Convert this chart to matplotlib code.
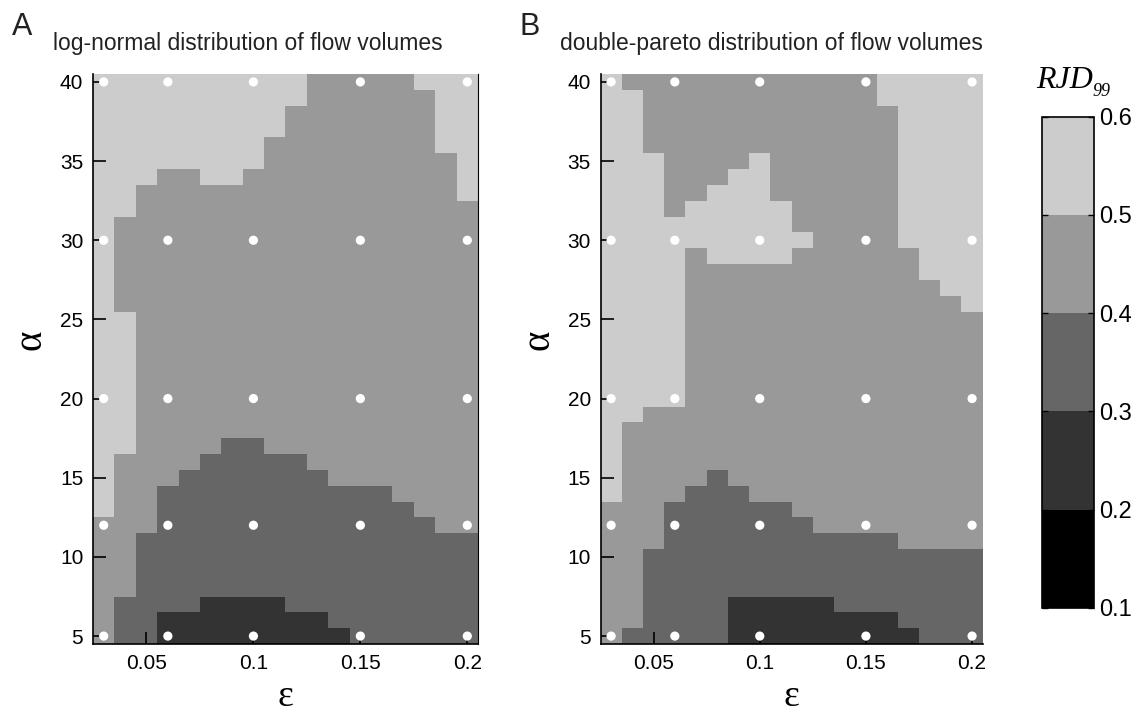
import numpy as np
import matplotlib
matplotlib.use("Agg")
import matplotlib.pyplot as plt
from matplotlib.colors import ListedColormap, BoundaryNorm

# ---------------- data ----------------
eps_values = [0.03, 0.04, 0.05, 0.06, 0.07, 0.08, 0.09, 0.10, 0.11,
              0.12, 0.13, 0.14, 0.15, 0.16, 0.17, 0.18, 0.19, 0.20]
alpha_values = list(range(40, 4, -1))  # rows from alpha=40 down to alpha=5

# RJD99 class codes per cell (1: 0.2-0.3, 2: 0.3-0.4, 3: 0.4-0.5, 4: 0.5-0.6)
class_to_rjd = {"1": 0.25, "2": 0.35, "3": 0.45, "4": 0.55}

rjd_lognormal_rows = [
    "444444444433333444",  # 40
    "444444444433333344",  # 39
    "444444444333333344",  # 38
    "444444444333333344",  # 37
    "444444443333333344",  # 36
    "444444443333333334",  # 35
    "444334433333333334",  # 34
    "443333333333333334",  # 33
    "443333333333333333",  # 32
    "433333333333333333",  # 31
    "433333333333333333",  # 30
    "433333333333333333",  # 29
    "433333333333333333",  # 28
    "433333333333333333",  # 27
    "433333333333333333",  # 26
    "443333333333333333",  # 25
    "443333333333333333",  # 24
    "443333333333333333",  # 23
    "443333333333333333",  # 22
    "443333333333333333",  # 21
    "443333333333333333",  # 20
    "443333333333333333",  # 19
    "443333333333333333",  # 18
    "443333223333333333",  # 17
    "433332222233333333",  # 16
    "433322222223333333",  # 15
    "433222222222223333",  # 14
    "433222222222222333",  # 13
    "333222222222222233",  # 12
    "332222222222222222",  # 11
    "332222222222222222",  # 10
    "332222222222222222",  # 9
    "332222222222222222",  # 8
    "322221111222222222",  # 7
    "322111111112222222",  # 6
    "322111111111222222",  # 5
]

rjd_doublepareto_rows = [
    "433333333333344444",  # 40
    "443333333333344444",  # 39
    "443333333333334444",  # 38
    "443333333333334444",  # 37
    "443333333333334444",  # 36
    "444333343333334444",  # 35
    "444333443333334444",  # 34
    "444334443333334444",  # 33
    "444344444333334444",  # 32
    "444444444333334444",  # 31
    "444444444433334444",  # 30
    "444434444333333444",  # 29
    "444433333333333444",  # 28
    "444433333333333344",  # 27
    "444433333333333334",  # 26
    "444433333333333333",  # 25
    "444433333333333333",  # 24
    "444433333333333333",  # 23
    "444433333333333333",  # 22
    "444433333333333333",  # 21
    "444433333333333333",  # 20
    "443333333333333333",  # 19
    "433333333333333333",  # 18
    "433333333333333333",  # 17
    "433333333333333333",  # 16
    "433332333333333333",  # 15
    "433322233333333333",  # 14
    "333222222333333333",  # 13
    "333222222233333333",  # 12
    "333222222222223333",  # 11
    "332222222222222222",  # 10
    "332222222222222222",  # 9
    "332222222222222222",  # 8
    "332222111112222222",  # 7
    "332222111111112222",  # 6
    "322222111111111222",  # 5
]

# simulated parameter points (white dots)
sample_eps = [0.03, 0.06, 0.10, 0.15, 0.20]
sample_alpha = [5, 12, 20, 30, 40]

level_bounds = [0.1, 0.2, 0.3, 0.4, 0.5, 0.6]
level_colors = ["#000000", "#333333", "#666666", "#999999", "#cccccc"]

panel_titles = ["log-normal distribution of flow volumes",
                "double-pareto distribution of flow volumes"]
panel_letters = ["A", "B"]
x_ticks = [0.05, 0.1, 0.15, 0.2]
x_ticklabels = ["0.05", "0.1", "0.15", "0.2"]
y_ticks = [5, 10, 15, 20, 25, 30, 35, 40]

# ---------------- figure ----------------
W, H = 1143, 715
fig = plt.figure(figsize=(W / 100, H / 100), dpi=100)
sans = ["Liberation Sans", "DejaVu Sans"]
serif = ["Liberation Serif", "DejaVu Serif"]
plt.rcParams["font.family"] = sans

cmap = ListedColormap(level_colors)
norm = BoundaryNorm(level_bounds, cmap.N)


def fx(px):
    return px / W


def fy(py):
    return 1 - py / H


axes_px = [(93, 74, 478, 644), (600.5, 74, 982.7, 644)]
datasets = [rjd_lognormal_rows, rjd_doublepareto_rows]

mesh = None
for k in range(2):
    l, t, r, b = axes_px[k]
    ax = fig.add_axes([fx(l), fy(b), fx(r - l), (b - t) / H])
    Z = np.array([[class_to_rjd[c] for c in row] for row in datasets[k]])
    mesh = ax.pcolormesh(eps_values, alpha_values, Z, cmap=cmap, norm=norm,
                         shading="nearest", linewidth=0, antialiased=False)
    ex, ay = np.meshgrid(sample_eps, sample_alpha)
    ax.scatter(ex.ravel(), ay.ravel(), s=44, c="white", edgecolors="none",
               zorder=2, clip_on=False)
    ax.set_xlim(0.025, 0.205)
    ax.set_ylim(4.5, 40.5)
    ax.set_xticks(x_ticks)
    ax.set_xticklabels(x_ticklabels)
    ax.set_yticks(y_ticks)
    ax.tick_params(direction="in", length=9, width=1.2, labelsize=15,
                   pad=7, colors="black", top=False, right=False)
    for side in ["top", "right"]:
        ax.spines[side].set_visible(False)
    for side in ["left", "bottom"]:
        ax.spines[side].set_linewidth(1.2)
    if k == 0:
        ax.spines["right"].set_visible(True)
        ax.spines["right"].set_linewidth(0.8)
    # axis labels
    fig.text(fx((l + r) / 2), fy(697), "ε", family=serif, fontsize=27,
             ha="center", va="center")
    fig.text(fx(l - 62), fy(340), "α", family=serif, fontsize=28,
             ha="center", va="center", rotation=90)
    # title and panel letter
    fig.text(fx(l - 40), fy(50), panel_titles[k], fontsize=16.5,
             ha="left", va="baseline", color="#222222")
    fig.text(fx(l - 81), fy(35), panel_letters[k], fontsize=22,
             ha="left", va="baseline", color="#222222")

# colorbar
cl, ct, cr, cb = 1041.7, 116.7, 1094, 607.7
cax = fig.add_axes([fx(cl), fy(cb), fx(cr - cl), (cb - ct) / H])
cbar = fig.colorbar(mesh, cax=cax, boundaries=level_bounds, ticks=level_bounds)
cbar.ax.set_yticklabels([f"{v:.1f}" for v in level_bounds])
cbar.ax.tick_params(direction="in", length=4, width=1.0, labelsize=17,
                    pad=4, left=True, right=True)
cbar.outline.set_linewidth(1.2)
fig.text(fx(1036), fy(88), "RJD", family=serif, style="italic", fontsize=23,
         ha="left", va="baseline")
fig.text(fx(1092), fy(96), "99", family=serif, style="italic", fontsize=13,
         ha="left", va="baseline")

fig.savefig("out.png", dpi=100)
